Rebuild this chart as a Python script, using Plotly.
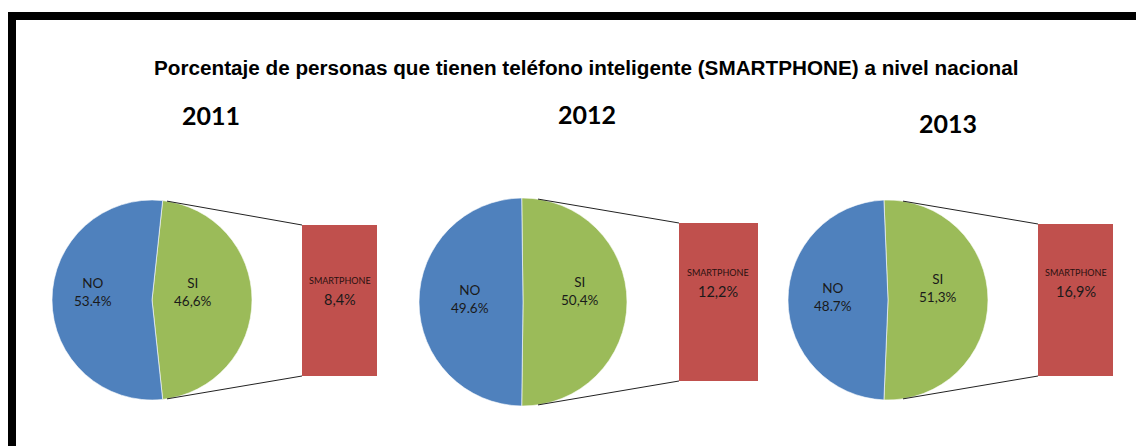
import math
import plotly.graph_objects as go

# ---------------- data ----------------
years = ["2011", "2012", "2013"]
no_values = [53.4, 49.6, 48.7]
si_values = [46.6, 50.4, 51.3]
smartphone_values = [8.4, 12.2, 16.9]
slice_names = ["SI", "NO"]
bar_name = "SMARTPHONE"
title_text = "Porcentaje de personas que tienen teléfono inteligente (SMARTPHONE) a nivel nacional"

# ---------------- layout geometry (pixels) ----------------
W, H = 1136, 446
pie_geo = [(152, 300, 100), (523, 302, 104), (888, 300, 100)]       # cx, cy, r
bar_geo = [(302, 225, 377, 376), (679, 223, 758, 381), (1038, 224, 1113, 376)]  # x0,y0,x1,y1
year_pos = [(211, 115), (587, 114), (948, 123)]
no_lbl_pos = [(93, 292), (470, 299), (833, 297)]
si_lbl_pos = [(193, 292), (580, 291), (938, 288)]
bar_lbl_y = [(280, 299), (272, 291), (272, 291)]

BLUE, GREEN, RED = "#4F81BD", "#9BBB59", "#C0504D"
TXT = "#1a1a1a"
FONT = "Lato, Calibri, 'Open Sans', sans-serif"


def px(x):
    return x / W


def py(y):
    return 1 - y / H


def label(text, x, y, size, color=TXT, family=FONT):
    return dict(text=text, x=px(x), y=py(y), xref="paper", yref="paper", showarrow=False,
                xanchor="center", yanchor="middle", font=dict(family=family, size=size, color=color))


fig = go.Figure()
annotations = []
shapes = []

for i, yr in enumerate(years):
    cx, cy, r = pie_geo[i]
    si = si_values[i]
    no = no_values[i]
    rot = 90 - si * 360 / 100 / 2
    fig.add_trace(go.Pie(
        labels=slice_names, values=[si, no],
        marker=dict(colors=[GREEN, BLUE], line=dict(color="white", width=0.6)),
        sort=False, direction="clockwise", rotation=rot,
        textinfo="none", hoverinfo="label+percent", showlegend=False,
        domain=dict(x=[px(cx - r), px(cx + r)], y=[py(cy + r), py(cy - r)]),
    ))

    # bar (secondary "bar of pie")
    bx0, by0, bx1, by1 = bar_geo[i]
    xa, ya = f"x{i + 2}", f"y{i + 2}"
    fig.add_trace(go.Bar(
        x=[0], y=[smartphone_values[i]], width=[1], marker=dict(color=RED, line=dict(width=0)),
        xaxis=xa, yaxis=ya, showlegend=False, name=bar_name, hoverinfo="y",
    ))
    fig.layout[f"xaxis{i + 2}"] = dict(domain=[px(bx0), px(bx1)], range=[-0.5, 0.5], visible=False,
                                        fixedrange=True, anchor=ya)
    fig.layout[f"yaxis{i + 2}"] = dict(domain=[py(by1), py(by0)], range=[0, smartphone_values[i]],
                                        visible=False, fixedrange=True, anchor=xa)

    # connector lines
    dx = 15
    dy = math.sqrt(r * r - dx * dx)
    shapes.append(dict(type="line", xref="paper", yref="paper",
                       x0=px(cx + dx), y0=py(cy - dy), x1=px(bx0), y1=py(by0),
                       line=dict(color="#222222", width=1)))
    shapes.append(dict(type="line", xref="paper", yref="paper",
                       x0=px(cx + dx), y0=py(cy + dy), x1=px(bx0), y1=py(by1),
                       line=dict(color="#222222", width=1)))

    # year titles
    annotations.append(label(f"<b>{yr}</b>", year_pos[i][0], year_pos[i][1], 25, "#000000"))
    # pie labels
    annotations.append(label(f"NO<br>{no:.1f}%", no_lbl_pos[i][0], no_lbl_pos[i][1], 13.5))
    annotations.append(label(f"SI<br>{si:.1f}%".replace(".", ","), si_lbl_pos[i][0], si_lbl_pos[i][1], 13.5))
    # bar labels
    bxc = (bx0 + bx1) / 2
    ly1, ly2 = bar_lbl_y[i]
    annotations.append(label(bar_name, bxc, ly1, 9, "#2a1010"))
    annotations.append(label(f"{smartphone_values[i]:.1f}%".replace(".", ","), bxc, ly2, 14.5))

# title
annotations.append(label(f"<b>{title_text}</b>", 586, 67, 20.7, "#000000",
                         "Liberation Sans, Arial, sans-serif"))

# frame (document border)
shapes.append(dict(type="rect", xref="paper", yref="paper", x0=px(8), x1=px(W), y0=py(20), y1=py(12),
                   fillcolor="#000000", line=dict(width=0), layer="above"))
shapes.append(dict(type="rect", xref="paper", yref="paper", x0=px(8), x1=px(16), y0=py(H), y1=py(12),
                   fillcolor="#000000", line=dict(width=0), layer="above"))

fig.update_layout(
    width=W, height=H,
    margin=dict(l=0, r=0, t=0, b=0),
    paper_bgcolor="white", plot_bgcolor="white",
    bargap=0,
    annotations=annotations, shapes=shapes,
    xaxis=dict(visible=False), yaxis=dict(visible=False),
)

fig.write_html("out.html", config={"displayModeBar": False},
               post_script="document.body.style.margin='0';document.body.style.overflow='hidden';")
